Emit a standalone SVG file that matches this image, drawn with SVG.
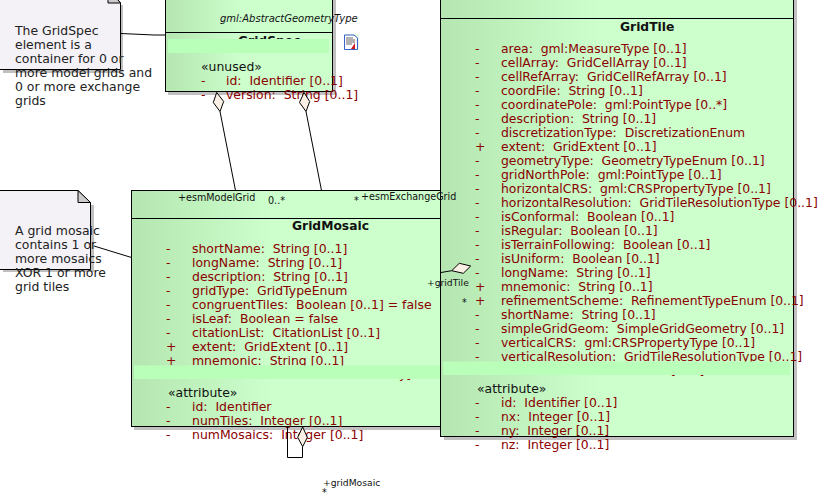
<svg xmlns="http://www.w3.org/2000/svg" width="834" height="504" viewBox="0 0 834 504">
<style>
text{font-family:"DejaVu Sans",sans-serif;font-size:12.45px;white-space:pre}
.a{fill:#8b0000}
.s{fill:#111}
.n{fill:#222}
.t{font-weight:bold;fill:#111;font-size:12.3px}
.l{fill:#111;font-size:9.6px}
.box{stroke:#000;stroke-width:1}
.sh{fill:#c0c0c0}
.band{fill:#b9ffb9}
.c{fill:none;stroke:#000;stroke-width:1}
.d{fill:#faf0e6;stroke:#000;stroke-width:1}
.note{fill:#f5f2f7;stroke:#000;stroke-width:1}
.fold{fill:#ccc;stroke:#000;stroke-width:1}
#GridTile .a{font-size:12.4px}
</style>
<defs>
<linearGradient id="g"><stop offset="0" stop-color="#b5e6b1"/><stop offset="0.45" stop-color="#ccffcc"/></linearGradient>
</defs>
<rect width="834" height="504" fill="#fff"/>
<g id="note-gridspec">
<rect class="sh" x="3" y="5" width="120" height="68"/>
<path class="note" d="M-2 -12H108L120.5 3V69.5H-2Z"/>
<path class="fold" d="M108 -12V3H120.5Z"/>
<text class="n" x="15" y="35">The GridSpec</text>
<text class="n" x="15" y="49">element is a</text>
<text class="n" x="15" y="63">container for 0 or</text>
<text class="n" x="15" y="77">more model grids and</text>
<text class="n" x="15" y="91">0 or more exchange</text>
<text class="n" x="15" y="105">grids</text>
</g>
<g id="GridSpec">
<rect class="sh" x="168" y="0" width="168" height="95"/>
<rect class="box" x="165.5" y="-10" width="167" height="101.5" fill="url(#g)"/>
<line class="c" x1="165.5" y1="32.5" x2="332.5" y2="32.5"/>
<text style="font-style:italic;font-size:10px" class="s" x="220" y="22">gml:AbstractGeometryType</text>
<text class="t" x="238" y="45">GridSpec</text>
<rect class="band" x="168" y="39" width="161" height="14"/>
<text class="s" x="201" y="71">«unused»</text>
<text class="a" x="201" y="85">-</text><text class="a" x="226" y="85">id:  Identifier [0..1]</text>
<text class="a" x="201" y="99">-</text><text class="a" x="226" y="99">version:  String [0..1]</text>
</g>
<g id="icon">
<rect x="344" y="34" width="15" height="16" fill="#e6f6e6"/>
<path d="M344.5 35H354L357.5 38V49.5H344.5Z" fill="#fff" stroke="#3a62c8"/>
<path d="M346 38H353M346 40H355M346 42H355M346 44H352" stroke="#666" stroke-width="1"/>
<path d="M351 49L355 43V49Z" fill="#d01818"/>
</g>
<g id="note-mosaic">
<rect class="sh" x="3" y="205" width="91" height="67"/>
<path class="note" d="M-2 190.5H78L90.5 202.5V269.5H-2Z"/>
<path class="fold" d="M78 190.5V202.5H90.5Z"/>
<text class="n" x="15" y="235">A grid mosaic</text>
<text class="n" x="15" y="249">contains 1 or</text>
<text class="n" x="15" y="263">more mosaics</text>
<text class="n" x="15" y="277">XOR 1 or more</text>
<text class="n" x="15" y="291">grid tiles</text>
</g>
<g id="GridMosaic">
<rect class="sh" x="134" y="193" width="310" height="237"/>
<rect class="box" x="131.5" y="190.5" width="312" height="236" fill="url(#g)"/>
<line class="c" x1="131.5" y1="218.5" x2="443" y2="218.5"/>
<text class="t" x="292" y="230">GridMosaic</text>
<text class="a" x="166" y="253">-</text><text class="a" x="192" y="253">shortName:  String [0..1]</text>
<text class="a" x="166" y="267">-</text><text class="a" x="192" y="267">longName:  String [0..1]</text>
<text class="a" x="166" y="281">-</text><text class="a" x="192" y="281">description:  String [0..1]</text>
<text class="a" x="166" y="295">-</text><text class="a" x="192" y="295">gridType:  GridTypeEnum</text>
<text class="a" x="166" y="309">-</text><text class="a" x="192" y="309">congruentTiles:  Boolean [0..1] = false</text>
<text class="a" x="166" y="323">-</text><text class="a" x="192" y="323">isLeaf:  Boolean = false</text>
<text class="a" x="166" y="337">-</text><text class="a" x="192" y="337">citationList:  CitationList [0..1]</text>
<text class="a" x="166" y="351">+</text><text class="a" x="192" y="351">extent:  GridExtent [0..1]</text>
<text class="a" x="166" y="365">+</text><text class="a" x="192" y="365">mnemonic:  String [0..1]</text>
<text class="a" x="399" y="378">y]</text>
<rect class="band" x="134" y="365.5" width="306" height="13.5"/>
<text class="s" x="168" y="397">«attribute»</text>
<text class="a" x="166" y="411">-</text><text class="a" x="192" y="411">id:  Identifier</text>
<text class="a" x="166" y="425">-</text><text class="a" x="192" y="425">numTiles:  Integer [0..1]</text>
<text class="a" x="166" y="439">-</text><text class="a" x="192" y="439">numMosaics:  Integer [0..1]</text>
</g>
<g id="GridTile">
<rect class="sh" x="444" y="0" width="353" height="440"/>
<rect class="box" x="440.5" y="-10" width="353" height="446.5" fill="url(#g)"/>
<line class="c" x1="440.5" y1="18.5" x2="793.5" y2="18.5"/>
<text class="t" x="620" y="31">GridTile</text>
<text class="a" x="475" y="53">-</text><text class="a" x="501" y="53">area:  gml:MeasureType [0..1]</text>
<text class="a" x="475" y="67">-</text><text class="a" x="501" y="67">cellArray:  GridCellArray [0..1]</text>
<text class="a" x="475" y="81">-</text><text class="a" x="501" y="81">cellRefArray:  GridCellRefArray [0..1]</text>
<text class="a" x="475" y="95">-</text><text class="a" x="501" y="95">coordFile:  String [0..1]</text>
<text class="a" x="475" y="109">-</text><text class="a" x="501" y="109">coordinatePole:  gml:PointType [0..*]</text>
<text class="a" x="475" y="123">-</text><text class="a" x="501" y="123">description:  String [0..1]</text>
<text class="a" x="475" y="137">-</text><text class="a" x="501" y="137">discretizationType:  DiscretizationEnum</text>
<text class="a" x="475" y="151">+</text><text class="a" x="501" y="151">extent:  GridExtent [0..1]</text>
<text class="a" x="475" y="165">-</text><text class="a" x="501" y="165">geometryType:  GeometryTypeEnum [0..1]</text>
<text class="a" x="475" y="179">-</text><text class="a" x="501" y="179">gridNorthPole:  gml:PointType [0..1]</text>
<text class="a" x="475" y="193">-</text><text class="a" x="501" y="193">horizontalCRS:  gml:CRSPropertyType [0..1]</text>
<text class="a" x="475" y="207">-</text><text class="a" x="501" y="207">horizontalResolution:  GridTileResolutionType [0..1]</text>
<text class="a" x="475" y="221">-</text><text class="a" x="501" y="221">isConformal:  Boolean [0..1]</text>
<text class="a" x="475" y="235">-</text><text class="a" x="501" y="235">isRegular:  Boolean [0..1]</text>
<text class="a" x="475" y="249">-</text><text class="a" x="501" y="249">isTerrainFollowing:  Boolean [0..1]</text>
<text class="a" x="475" y="263">-</text><text class="a" x="501" y="263">isUniform:  Boolean [0..1]</text>
<text class="a" x="475" y="277">-</text><text class="a" x="501" y="277">longName:  String [0..1]</text>
<text class="a" x="475" y="291">+</text><text class="a" x="501" y="291">mnemonic:  String [0..1]</text>
<text class="a" x="475" y="305">+</text><text class="a" x="501" y="305">refinementScheme:  RefinementTypeEnum [0..1]</text>
<text class="a" x="475" y="319">-</text><text class="a" x="501" y="319">shortName:  String [0..1]</text>
<text class="a" x="475" y="333">-</text><text class="a" x="501" y="333">simpleGridGeom:  SimpleGridGeometry [0..1]</text>
<text class="a" x="475" y="347">-</text><text class="a" x="501" y="347">verticalCRS:  gml:CRSPropertyType [0..1]</text>
<text class="a" x="475" y="361">-</text><text class="a" x="501" y="361">verticalResolution:  GridTileResolutionType [0..1]</text>
<text class="a" x="671" y="375">[0..1]</text>
<rect class="band" x="443" y="361.5" width="347" height="13.5"/>
<text class="s" x="477" y="393">«attribute»</text>
<text class="a" x="475" y="407">-</text><text class="a" x="501" y="407">id:  Identifier [0..1]</text>
<text class="a" x="475" y="421">-</text><text class="a" x="501" y="421">nx:  Integer [0..1]</text>
<text class="a" x="475" y="435">-</text><text class="a" x="501" y="435">ny:  Integer [0..1]</text>
<text class="a" x="475" y="449">-</text><text class="a" x="501" y="449">nz:  Integer [0..1]</text>
</g>
<g id="connectors">
<path class="c" d="M121 33.5L132 34L154 35L165.5 35"/>
<path class="c" d="M94 246L131.5 257.5"/>
<path class="c" d="M220 111.5L235.5 190.5"/>
<path class="d" d="M216.7 92.5L213.3 102.5L220 111.5L223.7 101.5Z"/>
<path class="c" d="M306 111.5L321.5 190.5"/>
<path class="d" d="M304 92.5L299.5 102.5L306 111.5L309.7 101.5Z"/>
<path class="c" d="M287.5 426.5V457.5H302.5V447"/>
<path class="d" d="M302.7 427L297.7 437.3L302.7 446.7L307.3 437.3Z"/>
<path class="c" d="M441 272.5L451.7 270.7"/>
<path class="d" d="M451.7 270.7L459.3 263.3L470.7 266L463.3 273.3Z"/>
</g>
<g id="labels">
<text class="l" x="178" y="201">+esmModelGrid</text>
<text class="l" x="268" y="204">0..*</text>
<text class="l" x="354" y="204">*</text>
<text class="l" x="361" y="200">+esmExchangeGrid</text>
<text class="l" x="427" y="286" style="font-size:9.2px">+gridTile</text>
<text class="l" x="462" y="306">*</text>
<text class="l" x="323" y="486" style="font-size:9.2px">+gridMosaic</text>
<text class="l" x="322" y="496">*</text>
</g>
</svg>
